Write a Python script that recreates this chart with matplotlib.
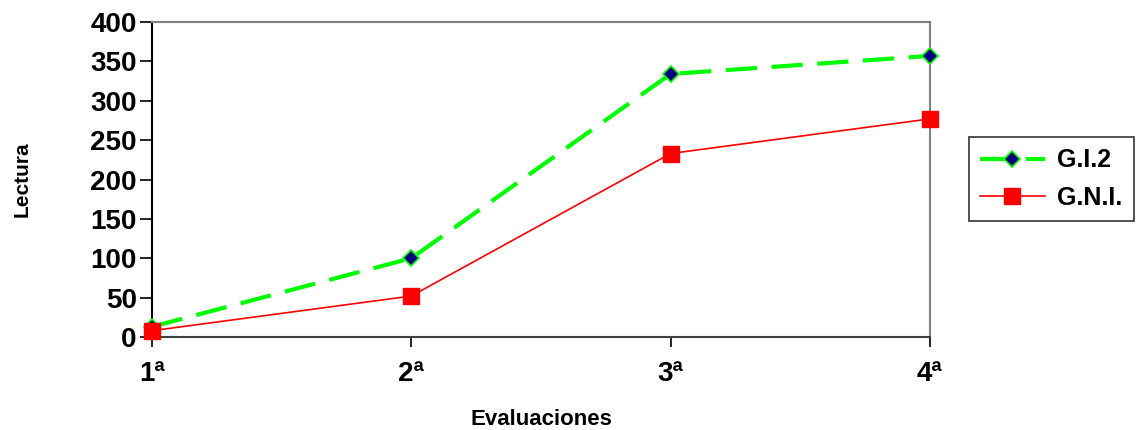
import matplotlib.pyplot as plt

evaluaciones = ['1ª', '2ª', '3ª', '4ª']
gi2 = [13, 100, 334, 357]
gni = [8, 52, 233, 277]

plt.rcParams['font.family'] = ['Liberation Sans', 'DejaVu Sans']
plt.rcParams['font.weight'] = 'bold'

fig = plt.figure(figsize=(11.41, 4.30), dpi=100)
ax = fig.add_axes([0.1332, 0.2163, 0.6818, 0.7325])

x = range(len(evaluaciones))
ax.plot(x, gi2, color='#00ff00', lw=3.0, dashes=(7.5, 3.5), marker='D', ms=8,
        mfc='#000080', mec='#00ff00', mew=1.2, label='G.I.2', clip_on=False, zorder=3)
ax.plot(x, gni, color='#ff0000', lw=1.2, marker='s', ms=12,
        mfc='#ff0000', mec='#ff0000', label='G.N.I.', clip_on=False, zorder=4)

ax.set_xlim(0, 3)
ax.set_ylim(0, 400)
ax.set_yticks(range(0, 401, 50))
ax.set_xticks(list(x))
ax.set_xticklabels(evaluaciones)
ax.tick_params(axis='both', labelsize=20, width=1.2)
ax.tick_params(axis='y', length=9, pad=2)
ax.tick_params(axis='x', length=7, pad=10)
for lab in ax.get_xticklabels() + ax.get_yticklabels():
    lab.set_fontweight('bold')

for s in ['top', 'right']:
    ax.spines[s].set_color('#808080')
    ax.spines[s].set_linewidth(1.5)
ax.spines['left'].set_linewidth(1.5)
ax.spines['bottom'].set_linewidth(1.5)
ax.spines['bottom'].set_color('#404040')

ax.set_xlabel('Evaluaciones', fontsize=16, fontweight='bold', labelpad=16)
ax.set_ylabel('Lectura', fontsize=15, fontweight='bold', labelpad=42)

leg = fig.legend(loc='upper left', bbox_to_anchor=(0.849, 0.681), fontsize=18,
                 frameon=True, fancybox=False, edgecolor='black', handlelength=2.6,
                 borderpad=0.45, labelspacing=0.55, handletextpad=0.5, borderaxespad=0)
leg.get_frame().set_linewidth(1.2)
for t in leg.get_texts():
    t.set_fontweight('bold')

fig.savefig('out.png', dpi=100)
